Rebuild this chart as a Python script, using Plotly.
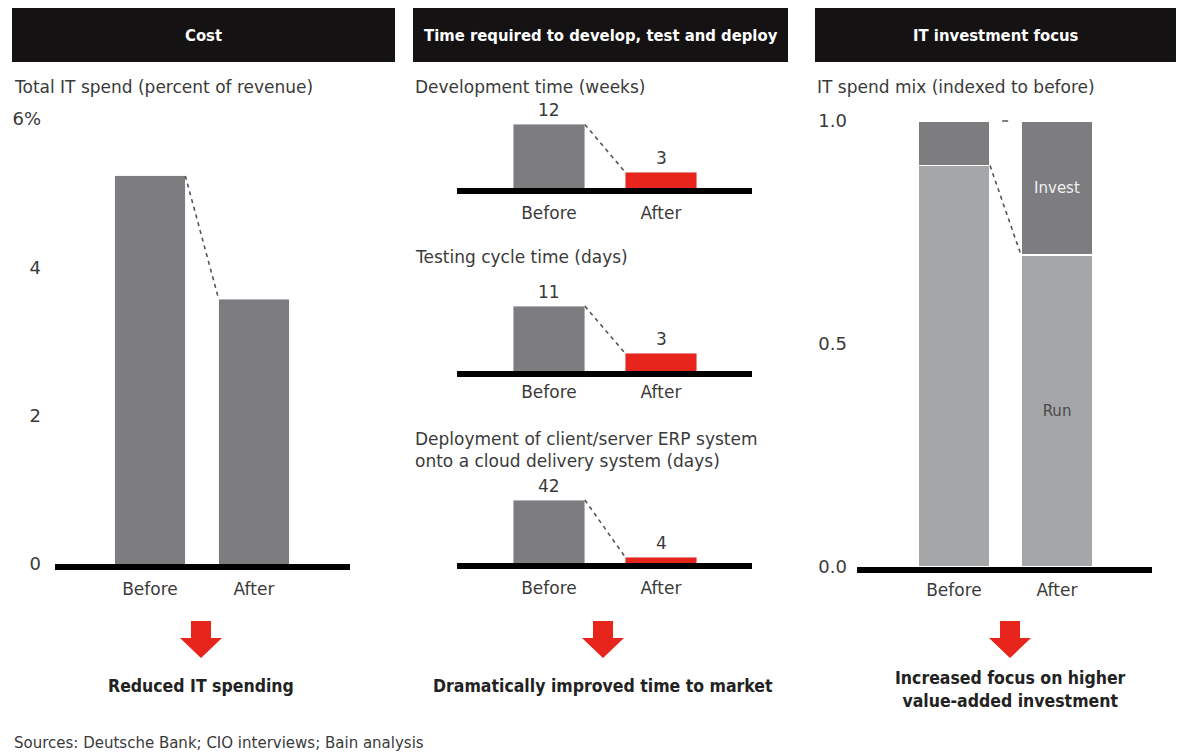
import plotly.graph_objects as go

W, H = 1184, 754
def fx(p): return p / W
def fy(p): return 1 - p / H

# ---------------- data ----------------
periods = ["Before", "After"]
it_spend_pct = [5.23, 3.57]            # Total IT spend (% of revenue)
dev_weeks = [12, 3]                    # Development time (weeks)
test_days = [11, 3]                    # Testing cycle time (days)
deploy_days = [42, 4]                  # Deployment time (days)
mix_run = [0.9, 0.7]                   # IT spend mix - Run
mix_invest = [0.1, 0.3]                # IT spend mix - Invest
cost_ticks = [0, 2, 4, 6]
cost_ticktext = ["0", "2", "4", "6%"]
mix_ticks = [0.0, 0.5, 1.0]

headers = ["Cost", "Time required to develop, test and deploy", "IT investment focus"]
conclusions = ["Reduced IT spending", "Dramatically improved time to market",
               "Increased focus on higher<br>value-added investment"]
source = "Sources: Deutsche Bank; CIO interviews; Bain analysis"

# ---------------- style ----------------
FONT = "DejaVu Sans"
BFONT = "DejaVu Sans Condensed, DejaVu Sans"
TXT = "#3a3a3a"
GREY = "#7d7d7f"
LIGHT = "#a5a6a8"
RED = "#e8251c"
DASH = "#555555"

fig = go.Figure()

def conn(xa, ya, vals, w):
    # dashed connector from Before top-right to After top-left
    fig.add_trace(go.Scatter(
        x=[0 + w / 2, 1 - w / 2], y=vals, mode="lines",
        line=dict(color=DASH, width=1.6, dash="4px,4px"),
        xaxis=xa, yaxis=ya, showlegend=False, hoverinfo="skip"))

# Panel 1 (cost)
w1 = 0.68
fig.add_trace(go.Bar(x=[0, 1], y=it_spend_pct, width=w1, marker_color=GREY,
                     xaxis="x", yaxis="y", showlegend=False))
conn("x", "y", it_spend_pct, w1)

# Panel 2 mini charts
w2 = 0.64
for ax, vals in (("2", dev_weeks), ("3", test_days), ("4", deploy_days)):
    fig.add_trace(go.Bar(x=[0, 1], y=vals, width=w2, marker_color=[GREY, RED],
                         xaxis="x" + ax, yaxis="y" + ax, showlegend=False))
    conn("x" + ax, "y" + ax, vals, w2)
    for i, v in enumerate(vals):
        fig.add_annotation(x=i, y=v, xref="x" + ax, yref="y" + ax, text=str(v),
                           showarrow=False, xanchor="center", yanchor="bottom", yshift=2,
                           font=dict(family=FONT, size=17, color=TXT))

# Panel 3 (mix)
w3 = 0.70
fig.add_trace(go.Bar(x=[0, 1], y=mix_run, width=w3, marker_color=LIGHT,
                     marker_line=dict(color="white", width=1.5),
                     text=["", "Run"], textposition="inside", insidetextanchor="middle",
                     textfont=dict(family=FONT, size=15, color="#4a4a4a"),
                     xaxis="x5", yaxis="y5", showlegend=False))
fig.add_trace(go.Bar(x=[0, 1], y=mix_invest, width=w3, marker_color=GREY,
                     marker_line=dict(color="white", width=1.5),
                     text=["", "Invest"], textposition="inside", insidetextanchor="middle",
                     textfont=dict(family=FONT, size=15, color="#f0f0f0"),
                     xaxis="x5", yaxis="y5", showlegend=False))
conn("x5", "y5", mix_run, w3)
tops = [r + i for r, i in zip(mix_run, mix_invest)]
fig.add_trace(go.Scatter(x=[0 + w3 / 2, 1 - w3 / 2], y=tops, mode="lines",
                         line=dict(color=DASH, width=1.6, dash="0.1px,12px,6px,100px"),
                         xaxis="x5", yaxis="y5", showlegend=False, hoverinfo="skip"))

# ---------------- axes ----------------
def xax(left, right, c0, c1, label_standoff):
    ppu = c1 - c0
    return dict(domain=[fx(left), fx(right)],
                range=[(left - c0) / ppu, (right - c0) / ppu],
                tickvals=[0, 1], ticktext=periods, ticks="",
                showline=True, linecolor="black", linewidth=6,
                showgrid=False, zeroline=False, fixedrange=True, automargin=False,
                ticklabelstandoff=label_standoff,
                tickfont=dict(family=FONT, size=17, color=TXT))

def yax(base, top, rmax, **kw):
    d = dict(domain=[fy(base), fy(top)], range=[0, rmax], showgrid=False,
             zeroline=False, showline=False, fixedrange=True, automargin=False)
    d.update(kw)
    return d

layout = dict(
    width=W, height=H, margin=dict(l=0, r=0, t=0, b=0, autoexpand=False),
    paper_bgcolor="white", plot_bgcolor="rgba(0,0,0,0)",
    barmode="stack", showlegend=False,
    font=dict(family=FONT, color=TXT),
)
# panel 1
layout["xaxis"] = xax(55, 350, 150, 254, 5)
layout["xaxis"]["anchor"] = "y"
layout["yaxis"] = yax(564, 564 - 6.3 * 74.2, 6.3, anchor="x",
                      tickvals=cost_ticks, ticktext=cost_ticktext, ticks="",
                      showticklabels=True, ticklabelstandoff=13,
                      tickfont=dict(family=FONT, size=18, color=TXT))
# panel 2
for ax, base, ppu, rmax, stand in (("2", 188, 5.3, 14, 5), ("3", 371, 5.9, 12.5, 1), ("4", 563, 1.5, 48, 5)):
    xa = xax(457, 752, 549, 661, stand)
    xa["anchor"] = "y" + ax
    layout["xaxis" + ax] = xa
    layout["yaxis" + ax] = yax(base, base - rmax * ppu, rmax, anchor="x" + ax,
                               showticklabels=False, ticks="")
# panel 3
layout["xaxis5"] = xax(857, 1152, 954, 1057, 3)
layout["xaxis5"]["anchor"] = "y5"
layout["yaxis5"] = yax(567, 567 - 1.06 * 446, 1.06, anchor="x5",
                       tickvals=mix_ticks, tickformat=".1f", ticks="",
                       showticklabels=True, ticklabelstandoff=9,
                       tickfont=dict(family=FONT, size=18, color=TXT))
fig.update_layout(**layout)

# ---------------- decorations ----------------
shapes = []
annots = []
header_boxes = [(12, 395), (413, 788), (815, 1176)]
for (l, r), t in zip(header_boxes, headers):
    shapes.append(dict(type="rect", xref="paper", yref="paper",
                       x0=fx(l), x1=fx(r), y0=fy(62), y1=fy(8),
                       fillcolor="#141213", line_width=0, layer="below"))
    annots.append(dict(x=fx((l + r) / 2), y=fy(35), xref="paper", yref="paper",
                       text="<b>%s</b>" % t, showarrow=False,
                       xanchor="center", yanchor="middle",
                       font=dict(family=BFONT, size=16.5, color="white")))

subtitles = [(12, 87, "Total IT spend (percent of revenue)"),
             (413, 87, "Development time (weeks)"),
             (413, 257, "Testing cycle time (days)"),
             (413, 450, "Deployment of client/server ERP system<br>onto a cloud delivery system (days)"),
             (815, 87, "IT spend mix (indexed to before)")]
for x, y, t in subtitles:
    annots.append(dict(x=fx(x), y=fy(y), xref="paper", yref="paper", text=t,
                       showarrow=False, xanchor="left", yanchor="middle", align="left",
                       font=dict(family=FONT, size=17, color=TXT)))

arrow_x = [201, 603, 1010]
for cx, t in zip(arrow_x, conclusions):
    pts = [(cx - 10, 621), (cx + 10, 621), (cx + 10, 638), (cx + 21, 638),
           (cx, 658), (cx - 21, 638), (cx - 10, 638)]
    path = "M " + " L ".join("%f,%f" % (fx(a), fy(b)) for a, b in pts) + " Z"
    shapes.append(dict(type="path", xref="paper", yref="paper", path=path,
                       fillcolor=RED, line_width=0))
    ty = 689 if "<br>" in t else 686
    annots.append(dict(x=fx(cx), y=fy(ty), xref="paper", yref="paper",
                       text="<b>%s</b>" % t, showarrow=False,
                       xanchor="center", yanchor="middle",
                       font=dict(family=BFONT, size=17.5, color="#222222")))

annots.append(dict(x=fx(12), y=fy(743), xref="paper", yref="paper", text=source,
                   showarrow=False, xanchor="left", yanchor="middle",
                   font=dict(family=FONT, size=15, color=TXT)))

fig.update_layout(shapes=shapes)
for a in annots:
    fig.add_annotation(**a)

fig.write_html("out.html")
